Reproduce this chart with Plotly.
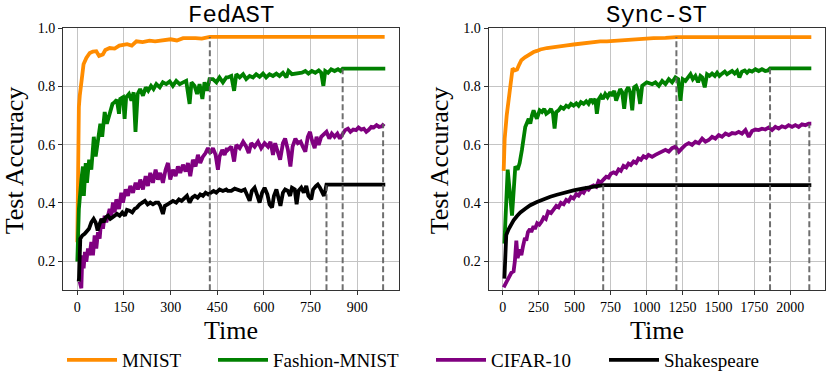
import plotly.graph_objects as go

names = ["MNIST", "Fashion-MNIST", "CIFAR-10", "Shakespeare"]
colors = ["#ff8c00", "#008000", "#800080", "#000000"]

# ---- FedAST (left) ----
fedast_mnist_t = [0, 1, 3, 5, 8, 11, 16, 20, 29, 40, 50, 61, 70, 82, 90, 104, 120, 135, 147, 160,
                  175, 190, 210, 232, 250, 275, 300, 320, 340, 380, 400, 426, 988]
fedast_mnist_acc = [0.265, 0.45, 0.64, 0.73, 0.77, 0.81, 0.84, 0.876, 0.898, 0.915, 0.92, 0.921, 0.905,
                    0.91, 0.925, 0.932, 0.93, 0.94, 0.944, 0.945, 0.94, 0.955, 0.952, 0.957, 0.955, 0.96,
                    0.962, 0.958, 0.966, 0.966, 0.964, 0.97, 0.97]

fedast_fashion_t = [0, 5, 13, 18, 21, 27, 31, 38, 45, 53, 59, 66, 74, 80, 88, 95, 104, 113, 120, 127,
                    134, 138, 147, 152, 157, 166, 174, 181, 187, 194, 202, 211, 220, 228, 237, 245, 254,
                    265, 275, 286, 297, 307, 318, 329, 340, 350, 361, 367, 377, 385, 393, 402, 409, 417,
                    425, 436, 447, 457, 468, 479,
                    484, 495, 504, 511, 522, 533, 543, 554, 565, 575, 586, 597, 607, 618, 629, 640, 650,
                    661, 672, 679, 690, 701, 711, 722, 733, 743, 754, 765, 776, 784, 791, 797, 806, 816,
                    827, 838, 846, 853, 990]
fedast_fashion_acc = [0.198, 0.379, 0.48, 0.525, 0.424, 0.537, 0.469, 0.548, 0.514, 0.627, 0.559, 0.605,
                      0.672, 0.627, 0.712, 0.672, 0.706, 0.74, 0.746, 0.754, 0.706, 0.757, 0.763, 0.689,
                      0.763, 0.774, 0.751, 0.78, 0.644, 0.774, 0.791, 0.768, 0.797, 0.785, 0.802, 0.791,
                      0.808, 0.797, 0.814, 0.808, 0.817, 0.802, 0.819, 0.808, 0.814, 0.819, 0.74, 0.814,
                      0.802, 0.774, 0.808, 0.757, 0.814, 0.785, 0.825, 0.825, 0.814, 0.831, 0.814, 0.831,
                      0.831, 0.836, 0.785, 0.842, 0.831, 0.842, 0.825, 0.836, 0.831, 0.842, 0.833, 0.844,
                      0.831, 0.842, 0.836, 0.844, 0.836, 0.847, 0.831, 0.853, 0.842, 0.844, 0.847, 0.847,
                      0.853, 0.844, 0.853, 0.847, 0.855, 0.847, 0.802, 0.853, 0.847, 0.859, 0.853, 0.859,
                      0.853, 0.861, 0.861]

fedast_cifar_t = [7.5, 12.9, 16.1, 20.3, 24.6, 28.9, 34.3, 39.6, 45, 50.3, 55.7, 61, 66.4, 71.8, 77.1,
                  82.5, 87.8, 93.2, 103.9, 109.2, 114.6, 120, 125.3, 133.9, 141.4, 146.7, 155.3, 162.8,
                  170.3, 178.9, 187.4, 194.9, 202.4, 211, 219.6, 227, 234.5, 243.1, 251.7, 259.2, 266.7,
                  275.2, 283.8, 291.3, 298.8, 307.4, 316, 323.4, 331, 339.5, 348, 355.6, 363, 371.6,
                  380.2, 387.7, 395.2, 403.8, 412.3, 419.8, 427.3, 435.9, 444.5, 452, 457.3, 465.9,
                  473.4, 480.9,
                  484, 495, 504, 511, 522, 533, 543, 551, 559, 570, 581, 591, 602, 613, 621, 629, 636,
                  645, 652, 661, 668, 677, 685, 692, 701, 709, 718, 725, 733, 741, 748, 754, 763, 769,
                  776, 784, 793, 801, 810, 818, 827, 836, 844, 853, 861, 870, 878, 887, 896, 904, 913,
                  921, 929, 936, 945, 953, 962, 970, 979, 986]
fedast_cifar_acc = [0.13, 0.107, 0.22, 0.175, 0.232, 0.198, 0.243, 0.22, 0.266, 0.22, 0.288, 0.243,
                    0.299, 0.277, 0.345, 0.311, 0.356, 0.333, 0.379, 0.356, 0.401, 0.367, 0.412, 0.379,
                    0.435, 0.401, 0.446, 0.424, 0.458, 0.435, 0.469, 0.446, 0.48, 0.446, 0.492, 0.458,
                    0.503, 0.469, 0.514, 0.48, 0.503, 0.469, 0.514, 0.537, 0.48, 0.514, 0.492, 0.525,
                    0.503, 0.531, 0.508, 0.537, 0.492, 0.548, 0.525, 0.565, 0.537, 0.559, 0.571, 0.588,
                    0.571, 0.588, 0.565, 0.514, 0.559, 0.582, 0.565, 0.588,
                    0.582, 0.593, 0.542, 0.599, 0.588, 0.61, 0.593, 0.571, 0.605, 0.593, 0.61, 0.588,
                    0.605, 0.593, 0.61, 0.565, 0.605, 0.576, 0.548, 0.605, 0.621, 0.582, 0.525, 0.593,
                    0.621, 0.605, 0.61, 0.593, 0.576, 0.627, 0.644, 0.616, 0.588, 0.627, 0.599, 0.627,
                    0.638, 0.644, 0.621, 0.638, 0.627, 0.638, 0.621, 0.638, 0.65, 0.655, 0.644, 0.652,
                    0.65, 0.659, 0.652, 0.655, 0.644, 0.65, 0.661, 0.659, 0.667, 0.661, 0.663, 0.672]

fedast_shakes_t = [4.3, 5.4, 9.6, 16.1, 23.6, 31.1, 37.5, 45, 52.5, 58.9, 65.3, 71.8, 78.2, 84.6, 91,
                   98.5, 106, 112.5, 120, 127.4, 136, 144.6, 153.2, 159.6, 168, 176.7, 184.2, 191.7,
                   200.3, 208.8, 217.4, 226, 234.5, 243.1, 251.7, 260.3, 266.7, 275.2, 281.7, 290.2,
                   298.8, 307.4, 318, 326.7, 335.2, 343.8, 352.4, 361, 369.5, 378, 386.6, 395.2, 403.8,
                   412.3, 420.9, 429.5, 438, 446.6, 457.3, 468, 478.7,
                   484, 495, 506, 516, 527, 538, 546, 554, 561, 570, 579, 586, 594, 602, 611, 618, 626,
                   632, 640, 647, 653, 661, 668, 677, 684, 690, 699, 705, 711, 720, 728, 736, 743, 752,
                   758, 767, 773, 780, 786, 793, 797, 801, 990]
fedast_shakes_acc = [0.13, 0.141, 0.277, 0.288, 0.294, 0.305, 0.311, 0.333, 0.345, 0.333, 0.305, 0.328,
                     0.345, 0.333, 0.35, 0.356, 0.345, 0.35, 0.356, 0.362, 0.356, 0.367, 0.356, 0.376,
                     0.373, 0.367, 0.379, 0.384, 0.395, 0.401, 0.407, 0.395, 0.401, 0.395, 0.401, 0.401,
                     0.39, 0.362, 0.39, 0.395, 0.401, 0.407, 0.401, 0.412, 0.407, 0.418, 0.424, 0.401,
                     0.418, 0.424, 0.418, 0.429, 0.424, 0.435, 0.429, 0.435, 0.441, 0.435, 0.446, 0.441,
                     0.446,
                     0.441, 0.441, 0.449, 0.446, 0.441, 0.446, 0.424, 0.407, 0.441, 0.452, 0.424, 0.401,
                     0.435, 0.452, 0.429, 0.395, 0.384, 0.424, 0.446, 0.412, 0.39, 0.435, 0.446, 0.441,
                     0.424, 0.452, 0.446, 0.395, 0.441, 0.452, 0.435, 0.458, 0.424, 0.412, 0.446, 0.458,
                     0.463, 0.452, 0.435, 0.424, 0.441, 0.463, 0.463]

fedast_conv_time = [426, 853, 983, 801]
fedast_conv_acc = [0.97, 0.861, 0.672, 0.463]

# ---- Sync-ST (right) ----
sync_mnist_t = [7, 14, 28, 45, 60, 69, 85, 100, 115, 130, 155, 185, 215, 238, 262, 308, 354, 400, 447,
                493, 539, 586, 632, 678, 725, 771, 817, 864, 910, 956, 1002, 1049, 1132, 1208, 2146]
sync_mnist_acc = [0.51, 0.62, 0.70, 0.76, 0.83, 0.862, 0.855, 0.858, 0.875, 0.89, 0.90, 0.91, 0.918,
                  0.922, 0.927, 0.932, 0.934, 0.938, 0.941, 0.944, 0.947, 0.949, 0.951, 0.955, 0.955,
                  0.957, 0.959, 0.960, 0.962, 0.964, 0.964, 0.966, 0.967, 0.969, 0.969]

sync_fashion_t = [12, 35, 65, 88, 104, 118, 134, 157, 181, 192, 204, 215, 227, 238, 257, 273, 289, 303,
                  319, 336, 350, 361, 373, 389, 405, 424, 442, 458, 475, 493, 512, 528, 544, 563, 581,
                  597, 613, 627, 644, 655, 669, 683, 697, 713, 729, 748, 762, 776, 789, 803, 817, 831,
                  845, 859, 873, 887, 901, 914, 928, 942, 956, 970, 984, 1002, 1026,
                  1039, 1062, 1086, 1109, 1132, 1155, 1178, 1201, 1220, 1236, 1252, 1271, 1289, 1306,
                  1322, 1340, 1359, 1375, 1387, 1405, 1421, 1438, 1456, 1475, 1491, 1507, 1525, 1544,
                  1560, 1576, 1595, 1613, 1630, 1646, 1664, 1683, 1699, 1715, 1734, 1757, 1780, 1803,
                  1826, 1845, 1859, 2146]
sync_fashion_acc = [0.26, 0.514, 0.356, 0.525, 0.514, 0.537, 0.582, 0.661, 0.689, 0.672, 0.701, 0.718,
                    0.701, 0.689, 0.718, 0.712, 0.723, 0.706, 0.712, 0.723, 0.706, 0.655, 0.712, 0.718,
                    0.729, 0.723, 0.734, 0.729, 0.74, 0.734, 0.742, 0.734, 0.746, 0.74, 0.749, 0.74,
                    0.757, 0.746, 0.757, 0.706, 0.757, 0.768, 0.757, 0.774, 0.763, 0.78, 0.768, 0.785,
                    0.751, 0.774, 0.791, 0.78, 0.723, 0.785, 0.797, 0.78, 0.718, 0.797, 0.802, 0.785,
                    0.74, 0.802, 0.808, 0.814, 0.81,
                    0.808, 0.814, 0.802, 0.819, 0.808, 0.825, 0.814, 0.831, 0.825, 0.751, 0.825, 0.819,
                    0.831, 0.842, 0.825, 0.836, 0.814, 0.836, 0.831, 0.797, 0.842, 0.836, 0.844, 0.836,
                    0.847, 0.836, 0.844, 0.851, 0.842, 0.847, 0.853, 0.844, 0.853, 0.831, 0.851, 0.855,
                    0.847, 0.855, 0.851, 0.859, 0.853, 0.859, 0.853, 0.855, 0.862, 0.862]

sync_cifar_t = [7, 19, 37, 60, 76, 85, 95, 104, 118, 130, 141, 155, 164, 176, 190, 199, 215, 224, 240,
                255, 270, 285, 300, 316, 336, 354, 373, 389, 405, 424, 442, 458, 475, 493, 512, 528,
                548, 563, 581, 597, 613, 632, 651, 667, 683, 701, 720, 736, 752, 771, 789, 806, 822,
                840, 859, 875, 891, 910, 928, 944, 961, 979, 998, 1014, 1030,
                1039, 1062, 1086, 1109, 1132, 1155, 1178, 1201, 1225, 1248, 1271, 1294, 1317, 1340,
                1363, 1387, 1410, 1433, 1456, 1479, 1502, 1525, 1549, 1572, 1595, 1618, 1641, 1664,
                1688, 1711, 1734, 1757, 1780, 1803, 1826, 1850, 1873, 1896, 1919, 1942, 1965, 1988,
                2012, 2035, 2058, 2081, 2104, 2127, 2146]
sync_cifar_acc = [0.11, 0.12, 0.14, 0.16, 0.165, 0.2, 0.27, 0.21, 0.24, 0.22, 0.25, 0.28, 0.27, 0.30,
                  0.31, 0.30, 0.32, 0.31, 0.33, 0.325, 0.335, 0.35, 0.345, 0.37, 0.365, 0.38, 0.39,
                  0.385, 0.40, 0.395, 0.41, 0.405, 0.42, 0.415, 0.43, 0.425, 0.44, 0.435, 0.45, 0.445,
                  0.455, 0.46, 0.455, 0.475, 0.47, 0.48, 0.49, 0.487, 0.5, 0.505, 0.5, 0.515, 0.51,
                  0.527, 0.522, 0.535, 0.53, 0.542, 0.537, 0.552, 0.548, 0.56, 0.555, 0.565, 0.562,
                  0.558, 0.565, 0.571, 0.576, 0.582, 0.576, 0.588, 0.593, 0.576, 0.588, 0.599, 0.605,
                  0.599, 0.61, 0.605, 0.621, 0.61, 0.616, 0.627, 0.621, 0.633, 0.627, 0.638, 0.633,
                  0.64, 0.638, 0.644, 0.638, 0.65, 0.627, 0.647, 0.652, 0.65, 0.655, 0.652, 0.659,
                  0.65, 0.661, 0.655, 0.663, 0.659, 0.667, 0.661, 0.667, 0.661, 0.67, 0.667, 0.672,
                  0.672]

sync_shakes_t = [12, 19, 25, 42, 58, 76, 100, 123, 157, 192, 238, 285, 331, 377, 424, 493, 563, 632,
                 699, 2146]
sync_shakes_acc = [0.14, 0.22, 0.29, 0.31, 0.325, 0.34, 0.355, 0.367, 0.38, 0.392, 0.403, 0.413, 0.421,
                   0.428, 0.435, 0.443, 0.45, 0.456, 0.461, 0.461]

sync_conv_time = [1208, 1859, 2132, 699]
sync_conv_acc = [0.969, 0.862, 0.67, 0.461]

fedast_xticks = [0, 150, 300, 450, 600, 750, 900]
sync_xticks = [0, 250, 500, 750, 1000, 1250, 1500, 1750, 2000]
y_ticks = [0.2, 0.4, 0.6, 0.8, 1.0]

SERIF = "Liberation Serif, Times New Roman, serif"
MONO = "Liberation Mono, Courier New, monospace"

fig = go.Figure()

panels = [
    ("x", "y", [(fedast_mnist_t, fedast_mnist_acc), (fedast_fashion_t, fedast_fashion_acc),
                (fedast_cifar_t, fedast_cifar_acc), (fedast_shakes_t, fedast_shakes_acc)],
     fedast_conv_time, fedast_conv_acc),
    ("x2", "y2", [(sync_mnist_t, sync_mnist_acc), (sync_fashion_t, sync_fashion_acc),
                  (sync_cifar_t, sync_cifar_acc), (sync_shakes_t, sync_shakes_acc)],
     sync_conv_time, sync_conv_acc),
]
legend_ids = ["legend", "legend2", "legend3", "legend4"]

for p, (xa, ya, series, conv_t, conv_a) in enumerate(panels):
    for i, (t, acc) in enumerate(series):
        fig.add_trace(go.Scatter(x=t, y=acc, mode="lines", name=names[i],
                                 line=dict(color=colors[i], width=3.8),
                                 xaxis=xa, yaxis=ya, showlegend=(p == 0),
                                 legend=legend_ids[i]))
    # dashed markers at the time each run stops improving
    for ct, ca in zip(conv_t, conv_a):
        fig.add_trace(go.Scatter(x=[ct, ct], y=[0.1, ca], mode="lines",
                                 line=dict(color="rgba(95,95,95,0.9)", width=2, dash="6px,3px"),
                                 xaxis=xa, yaxis=ya, showlegend=False))

axis_common = dict(showgrid=True, gridcolor="#c4c4c4", gridwidth=1.2, showline=True,
                   linecolor="#333333", linewidth=1.3, mirror=True, ticks="outside", ticklen=4,
                   tickcolor="#333333", zeroline=False, automargin=False,
                   tickfont=dict(family=SERIF, size=14, color="black"))

fig.update_layout(
    template="none",
    width=831, height=379,
    margin=dict(l=0, r=0, t=0, b=0),
    paper_bgcolor="white", plot_bgcolor="white",
    xaxis=dict(domain=[0.0762, 0.4801], range=[-45, 1034], tickvals=fedast_xticks, **axis_common),
    yaxis=dict(domain=[0.2261, 0.9248], range=[0.1, 1.0], tickvals=y_ticks, tickformat=".1f",
               **axis_common),
    xaxis2=dict(domain=[0.5881, 0.9931], range=[-97, 2243], tickvals=sync_xticks, anchor="y2",
                **axis_common),
    yaxis2=dict(domain=[0.2261, 0.9248], range=[0.1, 1.0], tickvals=y_ticks, tickformat=".1f",
                anchor="x2", **axis_common),
)

legend_x = [62, 213, 431, 604]
for lid, lx in zip(legend_ids, legend_x):
    fig.update_layout({lid: dict(x=lx / 831, y=1 - 364 / 379, xanchor="left", yanchor="middle",
                                 orientation="h", itemwidth=50, bgcolor="rgba(0,0,0,0)",
                                 borderwidth=0,
                                 font=dict(family=SERIF, size=19, color="black"))})

annotations = [
    dict(text="FedAST", x=0.2782, y=1.0, yanchor="top", font=dict(family=MONO, size=24)),
    dict(text="Sync-ST", x=0.7906, y=1.0, yanchor="top", font=dict(family=MONO, size=24)),
    dict(text="Time", x=0.2782, y=1 - 334 / 379, font=dict(family=SERIF, size=26)),
    dict(text="Time", x=0.7906, y=1 - 334 / 379, font=dict(family=SERIF, size=26)),
    dict(text="Test Accuracy", x=14 / 831, y=1 - 162 / 379, textangle=-90,
         font=dict(family=SERIF, size=26)),
    dict(text="Test Accuracy", x=439 / 831, y=1 - 162 / 379, textangle=-90,
         font=dict(family=SERIF, size=26)),
]
for a in annotations:
    a.setdefault("yanchor", "middle")
    a.update(xref="paper", yref="paper", xanchor="center", showarrow=False)
    a["font"]["color"] = "black"
fig.update_layout(annotations=annotations)

# page body has a default 8px margin; drop it so the figure sits at the window origin
fig.write_html("out.html", config={"displayModeBar": False},
               post_script="document.body.style.margin='0';")
